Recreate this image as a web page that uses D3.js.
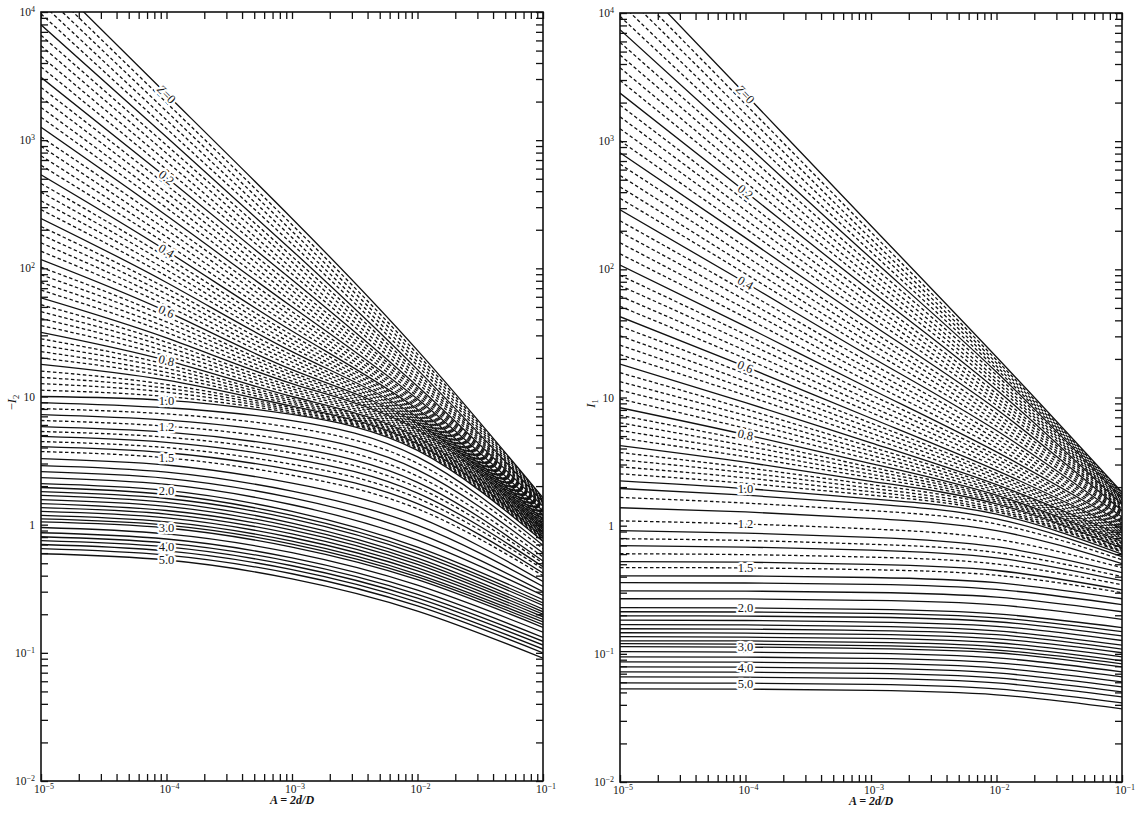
<!DOCTYPE html>
<html>
<head>
<meta charset="utf-8">
<script src="https://cdn.jsdelivr.net/npm/d3@7"></script>
<style>
  body { margin: 0; background: #fff; }
  svg { display: block; }
  text { font-family: "Liberation Serif", "DejaVu Serif", serif; fill: #151515; }
</style>
</head>
<body>
<div id="chart"></div>
<script>
// ===== Data =====
// abscissa samples A = 2d/D where every curve was read
const aSamples = [1e-5, 1e-4, 1e-3, 1e-2, 1e-1];

// curve parameter Z, left panel (-I2)
const zLeft = [
  0, 0.02, 0.04, 0.06, 0.08, 0.1, 0.12, 0.14, 0.16, 0.18, 0.2, 0.22, 0.24, 0.26, 0.28,
  0.3, 0.32, 0.34, 0.36, 0.38, 0.4, 0.42, 0.44, 0.46, 0.48, 0.5, 0.52, 0.54, 0.56, 0.58,
  0.6, 0.62, 0.64, 0.66, 0.68, 0.7, 0.72, 0.74, 0.76, 0.78, 0.8, 0.82, 0.84, 0.86, 0.88,
  0.9, 0.92, 0.94, 0.96, 0.98, 1.0,
  1.05, 1.1, 1.15, 1.2, 1.25, 1.3, 1.35, 1.4, 1.45, 1.5,
  1.6, 1.7, 1.8, 1.9, 2.0, 2.1, 2.2, 2.3, 2.4, 2.5, 2.6, 2.7, 2.8, 2.9, 3.0,
  3.25, 3.5, 3.75, 4.0, 4.33, 4.67, 5.0
];

// -I2 at aSamples, one row per zLeft entry
const negI2 = [
  [21400, 2290, 245, 22.9, 1.62], [17500, 1960, 219, 21.4, 1.60], [14400, 1680, 195, 20.0, 1.57],
  [11800, 1440, 174, 18.6, 1.55], [9680, 1230, 155, 17.4, 1.52], [7940, 1060, 138, 16.2, 1.50],
  [6580, 914, 124, 15.3, 1.48], [5450, 791, 112, 14.4, 1.45], [4510, 682, 100, 13.6, 1.43],
  [3730, 590, 90.4, 12.8, 1.41], [3090, 511, 81.3, 12.0, 1.39], [2580, 446, 73.8, 11.5, 1.36],
  [2160, 389, 67.0, 11.0, 1.34], [1800, 339, 60.8, 10.5, 1.32], [1510, 296, 55.2, 10.0, 1.30],
  [1260, 258, 50.1, 9.55, 1.28], [1060, 228, 45.9, 9.20, 1.26], [895, 200, 42.1, 8.87, 1.24],
  [755, 176, 38.5, 8.55, 1.22], [637, 155, 35.3, 8.24, 1.21], [537, 137, 32.4, 7.94, 1.19],
  [459, 122, 30.1, 7.73, 1.17], [393, 109, 27.9, 7.52, 1.15], [336, 97.3, 25.9, 7.31, 1.13],
  [287, 86.9, 24.1, 7.11, 1.11], [245, 77.6, 22.4, 6.92, 1.10], [212, 70.0, 21.0, 6.76, 1.08],
  [183, 63.1, 19.7, 6.61, 1.06], [158, 56.8, 18.5, 6.46, 1.05], [136, 51.2, 17.3, 6.31, 1.03],
  [117, 46.1, 16.2, 6.17, 1.01], [102, 42.0, 15.4, 6.03, 1.00], [89.1, 38.2, 14.7, 5.89, 0.98],
  [77.6, 34.7, 13.9, 5.75, 0.97], [67.6, 31.6, 13.2, 5.62, 0.95], [58.9, 28.7, 12.6, 5.50, 0.94],
  [52.0, 26.5, 12.0, 5.35, 0.92], [45.9, 24.4, 11.5, 5.20, 0.91], [40.6, 22.5, 11.0, 5.06, 0.90],
  [35.8, 20.7, 10.5, 4.92, 0.88], [31.6, 19.1, 10.0, 4.79, 0.87], [28.2, 17.8, 9.66, 4.68, 0.85],
  [25.1, 16.6, 9.33, 4.57, 0.84], [22.4, 15.4, 9.02, 4.47, 0.83], [20.0, 14.4, 8.71, 4.37, 0.81],
  [17.8, 13.4, 8.41, 4.27, 0.80], [15.8, 12.4, 8.17, 4.17, 0.79], [14.1, 11.6, 7.93, 4.07, 0.78],
  [12.6, 10.8, 7.69, 3.98, 0.77], [11.2, 10.0, 7.46, 3.89, 0.75], [10.0, 9.33, 7.24, 3.80, 0.74],
  [8.97, 8.17, 6.49, 3.38, 0.69], [8.05, 7.31, 5.74, 3.01, 0.65], [7.23, 6.55, 5.09, 2.68, 0.60],
  [6.50, 5.87, 4.53, 2.39, 0.56], [5.83, 5.27, 4.02, 2.14, 0.52], [5.33, 4.81, 3.64, 1.95, 0.50],
  [4.88, 4.39, 3.28, 1.76, 0.47], [4.45, 3.99, 2.96, 1.61, 0.45], [4.06, 3.64, 2.68, 1.46, 0.42],
  [3.72, 3.32, 2.43, 1.33, 0.40],
  [3.28, 2.92, 2.11, 1.15, 0.36], [2.89, 2.57, 1.83, 0.99, 0.33], [2.59, 2.30, 1.62, 0.86, 0.30],
  [2.33, 2.06, 1.43, 0.757, 0.28], [2.09, 1.85, 1.27, 0.668, 0.26],
  [1.95, 1.72, 1.18, 0.624, 0.245], [1.81, 1.60, 1.11, 0.589, 0.234], [1.69, 1.49, 1.03, 0.548, 0.219],
  [1.57, 1.39, 0.966, 0.518, 0.209], [1.46, 1.29, 0.906, 0.489, 0.200], [1.36, 1.21, 0.847, 0.461, 0.191],
  [1.27, 1.13, 0.794, 0.436, 0.182], [1.18, 1.05, 0.743, 0.410, 0.174], [1.11, 0.993, 0.706, 0.391, 0.166],
  [1.05, 0.942, 0.668, 0.372, 0.158],
  [0.95, 0.847, 0.604, 0.337, 0.145], [0.865, 0.773, 0.551, 0.308, 0.132], [0.805, 0.719, 0.513, 0.286, 0.123],
  [0.75, 0.670, 0.478, 0.267, 0.115], [0.70, 0.624, 0.446, 0.249, 0.107], [0.65, 0.579, 0.414, 0.232, 0.100],
  [0.593, 0.530, 0.378, 0.212, 0.091]
];

// curve parameter Z, right panel (I1)
const zRight = [
  0, 0.02, 0.04, 0.06, 0.08, 0.1, 0.12, 0.14, 0.16, 0.18, 0.2, 0.22, 0.24, 0.26, 0.28,
  0.3, 0.32, 0.34, 0.36, 0.38, 0.4, 0.42, 0.44, 0.46, 0.48, 0.5, 0.52, 0.54, 0.56, 0.58,
  0.6, 0.62, 0.64, 0.66, 0.68, 0.7, 0.72, 0.74, 0.76, 0.78, 0.8, 0.82, 0.84, 0.86, 0.88,
  0.9, 0.92, 0.94, 0.96, 0.98, 1.0,
  1.05, 1.1, 1.15, 1.2, 1.25, 1.3, 1.35, 1.4, 1.45, 1.5,
  1.6, 1.7, 1.8, 1.9, 2.0, 2.1, 2.2, 2.3, 2.4, 2.5, 2.6, 2.7, 2.8, 2.9, 3.0,
  3.25, 3.5, 3.75, 4.0, 4.33, 4.67, 5.0, 5.5
];

// I1 at aSamples, one row per zRight entry
const i1 = [
  [24500, 2320, 219, 20.7, 1.82], [19300, 1940, 195, 19.6, 1.78], [15200, 1630, 173, 18.6, 1.74],
  [12000, 1360, 155, 17.6, 1.70], [9420, 1140, 137, 16.7, 1.67], [7410, 955, 122, 15.8, 1.63],
  [5900, 804, 109, 14.9, 1.59], [4700, 676, 96.6, 13.9, 1.56], [3740, 569, 85.9, 13.1, 1.52],
  [2980, 479, 76.2, 12.3, 1.49], [2370, 403, 67.8, 11.5, 1.46], [1910, 341, 60.3, 10.7, 1.43],
  [1550, 289, 53.5, 10.0, 1.40], [1250, 245, 47.5, 9.33, 1.36], [1010, 207, 42.2, 8.69, 1.34],
  [813, 176, 37.5, 8.09, 1.31], [662, 150, 33.3, 7.50, 1.28], [540, 127, 29.6, 6.95, 1.25],
  [440, 108, 26.3, 6.44, 1.22], [358, 92.3, 23.3, 5.96, 1.20], [292, 78.5, 20.7, 5.52, 1.17],
  [239, 67.1, 18.5, 5.12, 1.14], [196, 57.4, 16.4, 4.74, 1.12], [161, 49.1, 14.7, 4.39, 1.09],
  [132, 42.0, 13.0, 4.06, 1.07], [108, 35.9, 11.6, 3.76, 1.05], [89.9, 31.0, 10.5, 3.52, 1.02],
  [74.6, 26.9, 9.42, 3.30, 1.00], [61.9, 23.2, 8.49, 3.08, 0.98], [51.4, 20.1, 7.64, 2.88, 0.96],
  [42.7, 17.4, 6.89, 2.70, 0.94], [36.0, 15.3, 6.31, 2.56, 0.92], [30.3, 13.4, 5.77, 2.44, 0.90],
  [25.6, 11.8, 5.28, 2.32, 0.88], [21.6, 10.4, 4.83, 2.20, 0.86], [18.2, 9.12, 4.43, 2.09, 0.84],
  [15.6, 8.13, 4.11, 2.02, 0.82], [13.3, 7.24, 3.81, 1.94, 0.80], [11.4, 6.46, 3.54, 1.87, 0.79],
  [9.73, 5.75, 3.28, 1.80, 0.77], [8.32, 5.13, 3.05, 1.73, 0.75], [7.26, 4.65, 2.86, 1.68, 0.73],
  [6.34, 4.21, 2.69, 1.63, 0.72], [5.53, 3.81, 2.52, 1.58, 0.70], [4.83, 3.45, 2.37, 1.53, 0.69],
  [4.22, 3.13, 2.22, 1.48, 0.67], [3.72, 2.84, 2.09, 1.43, 0.66], [3.27, 2.59, 1.96, 1.37, 0.64],
  [2.88, 2.36, 1.84, 1.32, 0.63], [2.54, 2.14, 1.73, 1.28, 0.62], [2.24, 1.95, 1.62, 1.23, 0.60],
  [1.95, 1.73, 1.48, 1.13, 0.573], [1.66, 1.50, 1.31, 1.03, 0.542], [1.38, 1.28, 1.14, 0.914, 0.505],
  [1.09, 1.03, 0.942, 0.783, 0.470], [0.914, 0.875, 0.811, 0.685, 0.430], [0.791, 0.766, 0.716, 0.617, 0.400],
  [0.698, 0.681, 0.644, 0.561, 0.372], [0.604, 0.594, 0.568, 0.502, 0.346], [0.524, 0.519, 0.499, 0.447, 0.316],
  [0.470, 0.468, 0.453, 0.410, 0.300],
  [0.406, 0.405, 0.394, 0.359, 0.269], [0.359, 0.357, 0.348, 0.318, 0.242], [0.310, 0.309, 0.301, 0.277, 0.213],
  [0.269, 0.268, 0.261, 0.241, 0.186], [0.229, 0.228, 0.222, 0.205, 0.160],
  [0.213, 0.212, 0.207, 0.191, 0.149], [0.198, 0.197, 0.193, 0.178, 0.138], [0.183, 0.182, 0.177, 0.164, 0.127],
  [0.169, 0.168, 0.164, 0.151, 0.117], [0.157, 0.156, 0.152, 0.141, 0.109], [0.146, 0.145, 0.142, 0.131, 0.102],
  [0.136, 0.135, 0.132, 0.122, 0.0948], [0.126, 0.126, 0.123, 0.114, 0.0881], [0.120, 0.119, 0.116, 0.107, 0.0836],
  [0.114, 0.113, 0.110, 0.102, 0.0791],
  [0.104, 0.103, 0.101, 0.0931, 0.0723], [0.0948, 0.0944, 0.0920, 0.0851, 0.0661], [0.0865, 0.0861, 0.0841, 0.0776, 0.0604],
  [0.0791, 0.0787, 0.0769, 0.0710, 0.0552], [0.0723, 0.0719, 0.0703, 0.0649, 0.0505], [0.0661, 0.0658, 0.0643, 0.0593, 0.0461],
  [0.0593, 0.0590, 0.0577, 0.0532, 0.0414], [0.0533, 0.0531, 0.0518, 0.0479, 0.0372]
];

// labelled curves
const zLabels = [0, 0.2, 0.4, 0.6, 0.8, 1.0, 1.2, 1.5, 2.0, 3.0, 4.0, 5.0];
const zLabelText = ["Z=0", "0.2", "0.4", "0.6", "0.8", "1.0", "1.2", "1.5", "2.0", "3.0", "4.0", "5.0"];

// tick labels (base, exponent)
const xDecades = [1e-5, 1e-4, 1e-3, 1e-2, 1e-1];
const xTickText = [["10", "−5"], ["10", "−4"], ["10", "−3"], ["10", "−2"], ["10", "−1"]];
const yDecades = [1e4, 1e3, 1e2, 10, 1, 0.1, 0.01];
const yTickText = [["10", "4"], ["10", "3"], ["10", "2"], ["10", ""], ["1", ""], ["10", "−1"], ["10", "−2"]];

// ===== SVG config =====
const W = 1135;
const H = 816;

const svg = d3.select("#chart").append("svg")
  .attr("width", W)
  .attr("height", H);

svg.append("rect").attr("width", W).attr("height", H).attr("fill", "#fff");

// solid on tenths up to 1; between 1 and 1.5 the tenths are dashed
function isDashed(z) {
  const k = Math.round(z * 100);
  if (k < 100) return k % 10 !== 0;
  if (k <= 150) return k > 100 && k % 10 === 0;
  return false;
}

function drawPanel(p) {
  const x = d3.scaleLog().domain([1e-5, 1e-1]).range([p.x0, p.x1]);
  const y = d3.scaleLog().domain([1e-2, 1e4]).range([p.y1, p.y0]);

  const g = svg.append("g");

  g.append("clipPath").attr("id", "clip-" + p.id)
    .append("rect")
    .attr("x", p.x0).attr("y", p.y0)
    .attr("width", p.x1 - p.x0).attr("height", p.y1 - p.y0);

  const line = d3.line()
    .x(d => x(d[0]))
    .y(d => y(d[1]))
    .curve(d3.curveNatural);

  const curves = p.z.map((z, i) => ({ z, pts: aSamples.map((a, j) => [a, p.rows[i][j]]) }));

  g.append("g")
    .attr("clip-path", `url(#clip-${p.id})`)
    .selectAll("path")
    .data(curves)
    .enter()
    .append("path")
    .attr("d", d => line(d.pts))
    .attr("fill", "none")
    .attr("stroke", "#111")
    .attr("stroke-width", 1.3)
    .attr("stroke-dasharray", d => isDashed(d.z) ? "3.5,2.5" : null);

  // ticks, all pointing inward
  const tickStyle = sel => {
    sel.select(".domain").remove();
    sel.selectAll("line").attr("stroke", "#111").attr("stroke-width", 1.3);
  };
  g.append("g").attr("transform", `translate(0,${p.y1})`)
    .call(d3.axisBottom(x).tickValues(x.ticks()).tickSize(-7).tickFormat(""))
    .call(tickStyle);
  g.append("g").attr("transform", `translate(0,${p.y0})`)
    .call(d3.axisTop(x).tickValues(x.ticks()).tickSize(-7).tickFormat(""))
    .call(tickStyle);
  g.append("g").attr("transform", `translate(${p.x0},0)`)
    .call(d3.axisLeft(y).tickValues(y.ticks()).tickSize(-7).tickFormat(""))
    .call(tickStyle);
  g.append("g").attr("transform", `translate(${p.x1},0)`)
    .call(d3.axisRight(y).tickValues(y.ticks()).tickSize(-7).tickFormat(""))
    .call(tickStyle);

  g.append("rect")
    .attr("x", p.x0).attr("y", p.y0)
    .attr("width", p.x1 - p.x0).attr("height", p.y1 - p.y0)
    .attr("fill", "none")
    .attr("stroke", "#111")
    .attr("stroke-width", 1.6);

  // decade labels
  const xl = g.selectAll(".xl").data(xDecades).enter().append("text")
    .attr("x", d => x(d) + 3)
    .attr("y", p.y1 + 12)
    .attr("text-anchor", "middle")
    .style("font-size", "11.5px");
  xl.append("tspan").text((d, i) => xTickText[i][0]);
  xl.append("tspan").attr("dy", -4).style("font-size", "8px").text((d, i) => xTickText[i][1]);

  const yl = g.selectAll(".yl").data(yDecades).enter().append("text")
    .attr("x", p.x0 - 6)
    .attr("y", d => y(d) + 4)
    .attr("text-anchor", "end")
    .style("font-size", "11.5px");
  yl.append("tspan").text((d, i) => yTickText[i][0]);
  yl.append("tspan").attr("dy", -4).style("font-size", "8px").text((d, i) => yTickText[i][1]);

  // axis titles
  const yt = g.append("text")
    .attr("transform", `translate(${p.x0 - 25},${y(10) + 6}) rotate(-90)`)
    .attr("text-anchor", "middle")
    .style("font-size", "12.5px");
  if (p.neg) yt.append("tspan").text("−");
  yt.append("tspan").style("font-style", "italic").text("I");
  yt.append("tspan").attr("dy", 3).style("font-size", "8.5px").text(p.sub);

  g.append("text")
    .attr("x", (p.x0 + p.x1) / 2)
    .attr("y", p.y1 + 23)
    .attr("text-anchor", "middle")
    .style("font-size", "12px")
    .style("font-style", "italic")
    .style("font-weight", "bold")
    .text("A = 2d/D");

  // curve labels, sat on the curve at A = 1e-4 with a white gap
  zLabels.forEach((z, k) => {
    const i = p.z.findIndex(v => Math.abs(v - z) < 1e-9);
    if (i < 0) return;
    const row = p.rows[i];
    const lx = x(aSamples[1]);
    const ly = y(row[1]);
    let ang = Math.atan2(y(row[2]) - y(row[0]), x(aSamples[2]) - x(aSamples[0])) * 180 / Math.PI;
    if (z >= 1) ang = 0;
    const t = g.append("text")
      .attr("transform", `translate(${lx},${ly}) rotate(${ang})`)
      .attr("text-anchor", "middle")
      .attr("dy", "0.35em")
      .style("font-size", "12.5px")
      .style("paint-order", "stroke")
      .style("stroke", "#fff")
      .style("stroke-width", "4.5px")
      .style("stroke-linejoin", "round");
    if (z === 0) {
      t.append("tspan").style("font-style", "italic").text("Z");
      t.append("tspan").text("=0");
    } else {
      t.text(zLabelText[k]);
    }
  });
}

drawPanel({ id: "left", x0: 41, x1: 543, y0: 12, y1: 781, z: zLeft, rows: negI2, neg: true, sub: "2" });
drawPanel({ id: "right", x0: 620, x1: 1122, y0: 13, y1: 782, z: zRight, rows: i1, neg: false, sub: "1" });
</script>
</body>
</html>
